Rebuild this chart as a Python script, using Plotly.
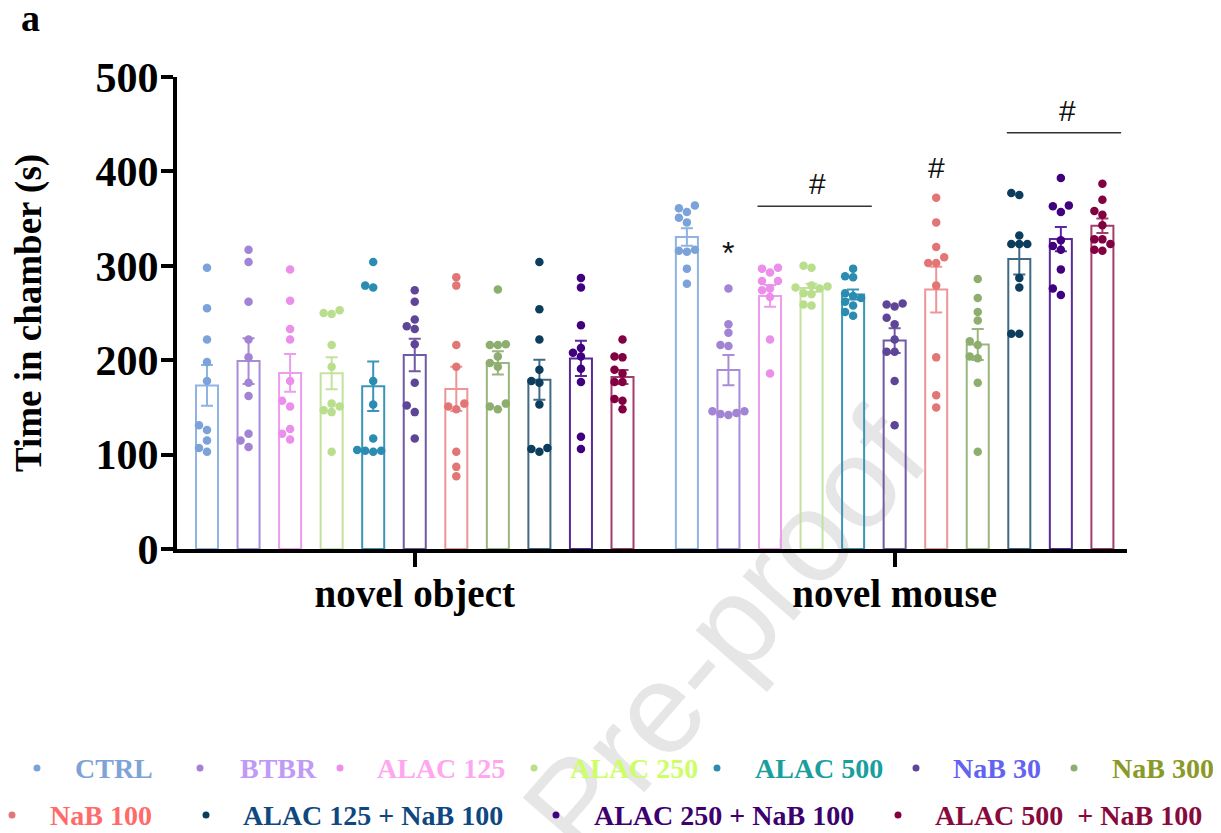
import numpy as np
import plotly.graph_objects as go

# ---------------- data ----------------
groups = ["CTRL", "BTBR", "ALAC 125", "ALAC 250", "ALAC 500", "NaB 30",
          "NaB 100", "NaB 300", "ALAC 125 + NaB 100", "ALAC 250 + NaB 100",
          "ALAC 500  + NaB 100"]
conditions = ["novel object", "novel mouse"]
y_ticks = [0, 100, 200, 300, 400, 500]

ctrl_obj = [298, 255, 222, 198, 178, 131, 126, 115, 107, 103]
btbr_obj = [317, 304, 262, 222, 203, 176, 162, 122, 115, 108]
alac125_obj = [296, 263, 233, 222, 178, 157, 151, 127, 122, 116]
alac250_obj = [253, 250, 249, 216, 193, 154, 151, 147, 145, 103]
alac500_obj = [304, 279, 277, 178, 153, 117, 105, 104, 103, 104]
nab30_obj = [274, 262, 243, 236, 233, 217, 176, 152, 145, 117]
nab100_obj = [288, 279, 216, 193, 154, 151, 148, 103, 87, 77]
nab300_obj = [275, 217, 216, 216, 204, 197, 193, 154, 151, 148]
a125n_obj = [304, 254, 222, 190, 178, 176, 153, 107, 106, 103]
a250n_obj = [287, 277, 237, 213, 208, 204, 191, 177, 119, 106]
a500n_obj = [222, 204, 203, 190, 186, 177, 177, 159, 157, 148]

ctrl_mouse = [364, 361, 357, 351, 346, 317, 316, 315, 297, 281]
btbr_mouse = [276, 238, 229, 216, 215, 146, 146, 144, 143, 142]
alac125_mouse = [298, 297, 293, 284, 284, 276, 274, 267, 222, 186]
alac250_mouse = [300, 298, 279, 278, 277, 276, 271, 270, 259, 258]
alac500_mouse = [297, 289, 288, 271, 268, 266, 262, 258, 251, 247]
nab30_mouse = [260, 259, 257, 245, 238, 222, 209, 209, 178, 131]
nab100_mouse = [372, 346, 320, 309, 303, 303, 279, 203, 163, 150]
nab300_mouse = [286, 266, 251, 242, 220, 216, 204, 202, 176, 103]
a125n_mouse = [377, 375, 332, 323, 323, 323, 287, 277, 228, 228]
a250n_mouse = [393, 364, 363, 357, 327, 321, 317, 296, 276, 269]
a500n_mouse = [387, 370, 358, 354, 343, 328, 328, 323, 317, 316]

obj_data = [ctrl_obj, btbr_obj, alac125_obj, alac250_obj, alac500_obj, nab30_obj,
            nab100_obj, nab300_obj, a125n_obj, a250n_obj, a500n_obj]
mouse_data = [ctrl_mouse, btbr_mouse, alac125_mouse, alac250_mouse, alac500_mouse,
              nab30_mouse, nab100_mouse, nab300_mouse, a125n_mouse, a250n_mouse,
              a500n_mouse]

# significance marks: (condition, group index, symbol)
marks = [(1, 1, "*"), (1, 6, "#")]
# brackets: (condition, first group, last group, symbol, line level in s)
bracket_marks = [(1, 2, 4, "#", 363), (1, 8, 10, "#", 441)]

# ---------------- styles ----------------
dot_colors = ["#7BA3DA", "#A184D4", "#EC8FEA", "#B9DE8C", "#2B8CB2", "#5F4597",
              "#E27676", "#8EAE6E", "#0D3D5C", "#41007F", "#82003F"]
bar_colors = ["#8FB3E3", "#A88CDA", "#EE9CEC", "#C3E39C", "#3B95B8", "#7159A5",
              "#EE9595", "#99B67E", "#3F6A87", "#5B2A9A", "#A33C6B"]
legend_text_colors = ["#7FA3D6", "#C09AF7", "#FFA6F0", "#CCFF66", "#1A9E9E", "#6363F2",
                      "#FF6B6B", "#8A9A28", "#0F4780", "#3D006E", "#880A3C"]

OFF = 8                      # page body margin of the html page
W, H = 1221 - OFF, 833 - OFF
L, T = 177 - OFF, 77 - OFF
plot_w, plot_h = 950, 472
R, B = W - L - plot_w, H - T - plot_h
UNIT = 41.55           # px between neighbouring bars
GROUP_GAP = 11.55      # offset of the second group, in bar units
x_lo = -(207 - 177) / UNIT
x_hi = x_lo + plot_w / UNIT
PX_X = UNIT
PX_Y = plot_h / 500.0

SERIF = "Liberation Serif"


def swarm(vals, d=8.0, step=8.0):
    vals = np.asarray(vals, float)
    placed = []
    offs = np.zeros(len(vals))
    for i in np.argsort(vals):
        yy = vals[i] * PX_Y
        chosen, best_x, best_score = None, 0.0, -1.0
        for k in [0, -1, 1, -2, 2]:
            xx = k * step
            mind = min([np.hypot(xx - px, yy - py) for px, py in placed], default=1e9)
            if mind >= d * 0.95:
                chosen = xx
                break
            if mind > best_score:
                best_score, best_x = mind, xx
        if chosen is None:
            chosen = best_x
        placed.append((chosen, yy))
        offs[i] = chosen / PX_X
    return offs


fig = go.Figure()

positions = [[c * GROUP_GAP + g for c in range(2)] for g in range(len(groups))]

for g, name in enumerate(groups):
    datasets = [obj_data[g], mouse_data[g]]
    means = [float(np.mean(d)) for d in datasets]
    sems = [float(np.std(d, ddof=1) / np.sqrt(len(d))) for d in datasets]
    fig.add_trace(go.Bar(
        x=positions[g], y=means, width=0.53, name=name, showlegend=False,
        marker=dict(color="rgba(0,0,0,0)", line=dict(color=bar_colors[g], width=2)),
        error_y=dict(type="data", array=sems, color=bar_colors[g], thickness=2, width=6),
        hoverinfo="skip"))

for g, name in enumerate(groups):
    xs, ys = [], []
    for c, d in enumerate([obj_data[g], mouse_data[g]]):
        offs = swarm(d)
        xs += list(positions[g][c] + offs)
        ys += list(d)
    fig.add_trace(go.Scatter(
        x=xs, y=ys, mode="markers", name=name, showlegend=False,
        marker=dict(color=dot_colors[g], size=8.5, line=dict(width=0))))

annotations = []
shapes = []

for c, g, sym in marks:
    top = max([obj_data, mouse_data][c][g])
    annotations.append(dict(x=positions[g][c], y=top + (38 if sym == "*" else 32),
                            text=sym, showarrow=False, xref="x", yref="y",
                            font=dict(family="Liberation Sans", size=30 if sym == "#" else 32,
                                      color="#111111")))
for c, g0, g1, sym, yline in bracket_marks:
    shapes.append(dict(type="line", xref="x", yref="y",
                       x0=positions[g0][c] - 0.3, x1=positions[g1][c] + 0.45,
                       y0=yline, y1=yline, line=dict(color="#333333", width=1.5)))
    annotations.append(dict(x=(positions[g0][c] + positions[g1][c]) / 2 + 0.15,
                            y=yline + 24, text=sym, showarrow=False, xref="x", yref="y",
                            font=dict(family="Liberation Sans", size=30, color="#111111")))


# ---------------- manual legend (positions in reference-image pixels) ----------------
def pxx(px):
    return (px - OFF - L) / plot_w


def pyy(py):
    return (T + plot_h - (py - OFF)) / plot_h


legend_order = [0, 1, 2, 3, 4, 5, 7, 6, 8, 9, 10]
legend_slots = [(37, 73, 768), (200, 238, 768), (340, 375, 768), (534, 568, 768),
                (717, 753, 768), (916, 951, 768), (1074, 1110, 768),
                (12, 48, 815), (206, 241, 815), (556, 592, 815), (898, 933, 815)]
for g, (dx, tx, ty) in zip(legend_order, legend_slots):
    shapes.append(dict(type="circle", xref="paper", yref="paper", xsizemode="pixel",
                       ysizemode="pixel", xanchor=pxx(dx), yanchor=pyy(ty),
                       x0=-3.5, x1=3.5, y0=-3.5, y1=3.5,
                       fillcolor=dot_colors[g], line=dict(width=0)))
    annotations.append(dict(x=pxx(tx), y=pyy(ty), xref="paper", yref="paper",
                            xanchor="left", yanchor="middle", showarrow=False,
                            text=groups[g],
                            font=dict(family=SERIF, size=28, weight="bold",
                                      color=legend_text_colors[g])))

# panel letter
annotations.append(dict(x=pxx(30), y=pyy(18), xref="paper", yref="paper",
                        xanchor="center", yanchor="middle", showarrow=False, text="a",
                        font=dict(family=SERIF, size=38, weight="bold", color="black")))

# watermark (below data)
shapes.append(dict(type="rect", xref="paper", yref="paper", layer="below",
                   x0=pxx(515), x1=pxx(915), y0=pyy(830), y1=pyy(420),
                   line=dict(width=0), fillcolor="rgba(0,0,0,0)",
                   label=dict(text="Pre-proof", textangle=-49, textposition="middle center",
                              font=dict(family="Liberation Sans", size=128, color="#E6E6E6"))))

fig.update_layout(
    width=W, height=H, margin=dict(l=L, r=R, t=T, b=B),
    paper_bgcolor="white", plot_bgcolor="white", barmode="overlay",
    annotations=annotations, shapes=shapes, showlegend=False,
    xaxis=dict(range=[x_lo, x_hi], showgrid=False, zeroline=False, showline=True,
               linecolor="black", linewidth=4, ticks="outside", tickwidth=4, ticklen=14,
               tickcolor="black", ticklabelstandoff=-7,
               tickvals=[5, GROUP_GAP + 5], ticktext=conditions,
               tickfont=dict(family=SERIF, size=39, weight="bold", color="black")),
    yaxis=dict(range=[0, 500], showgrid=False, zeroline=False, showline=True,
               linecolor="black", linewidth=4, ticks="outside", tickwidth=4, ticklen=12,
               tickcolor="black", tickvals=y_ticks, ticklabelstandoff=-6,
               tickfont=dict(family=SERIF, size=42, weight="bold", color="black"),
               title=dict(text="Time in chamber (s)", standoff=44,
                          font=dict(family=SERIF, size=37, weight="bold", color="black"))),
)

fig.write_html("out.html")
